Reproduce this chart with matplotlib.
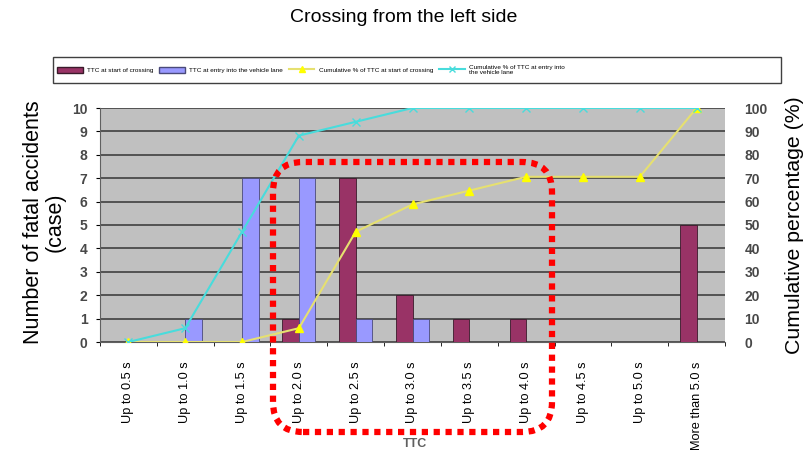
import matplotlib.pyplot as plt
from matplotlib.patches import FancyBboxPatch, Rectangle, Patch
from matplotlib.lines import Line2D
import numpy as np

plt.rcParams['font.family'] = ['Liberation Sans', 'DejaVu Sans']

categories = ['Up to 0.5 s', 'Up to 1.0 s', 'Up to 1.5 s', 'Up to 2.0 s', 'Up to 2.5 s',
              'Up to 3.0 s', 'Up to 3.5 s', 'Up to 4.0 s', 'Up to 4.5 s', 'Up to 5.0 s',
              'More than 5.0 s']
ttc_start = [0, 0, 0, 1, 7, 2, 1, 1, 0, 0, 5]
ttc_entry = [0, 1, 7, 7, 1, 1, 0, 0, 0, 0, 0]
cum_start = [0, 0, 0, 5.9, 47.1, 58.8, 64.7, 70.6, 70.6, 70.6, 100]
cum_entry = [0, 5.9, 47.1, 88.2, 94.1, 100, 100, 100, 100, 100, 100]

fig = plt.figure(figsize=(8.07, 4.55), dpi=100)
ax = fig.add_axes([100/807, 1-342/455, 625/807, 234/455])
ax.set_facecolor('#c0c0c0')

x = np.arange(len(categories))
w = 0.29
ax.bar(x - w/2, ttc_start, w, color='#993366', edgecolor='#3a1a2a', linewidth=0.6, zorder=3)
ax.bar(x + w/2, ttc_entry, w, color='#9999ff', edgecolor='#4a4a7a', linewidth=0.6, zorder=3)

ax.set_xlim(-0.5, len(categories) - 0.5)
ax.set_ylim(0, 10)
ax.set_yticks(range(0, 11))
ax.grid(axis='y', color='#404040', linewidth=1.2, zorder=1)
ax.set_axisbelow(True)
ax.set_xticks(x)
ax.set_xticklabels(categories, rotation=90, fontsize=9.2)
ax.set_xticks(np.arange(-0.5, len(categories), 1), minor=True)
ax.tick_params(axis='x', which='major', length=0, pad=14)
ax.tick_params(axis='x', which='minor', length=3)
ax.tick_params(axis='y', labelsize=10, labelcolor='#484848', length=3, pad=6)
for lab in ax.get_yticklabels():
    lab.set_fontweight('bold')
for s in ['top', 'right']:
    ax.spines[s].set_visible(False)
ax.spines['left'].set_color('#606060')
ax.spines['bottom'].set_color('#606060')

ax2 = ax.twinx()
ax2.set_ylim(0, 100)
ax2.set_yticks(range(0, 101, 10))
ax2.plot(x, cum_start, color='#e6e070', linewidth=1.5, marker='^', markersize=6,
         markerfacecolor='#ffff00', markeredgecolor='#ffff00', zorder=4)
ax2.plot(x, cum_entry, color='#48dcdc', linewidth=1.5, marker='x', markersize=6,
         markeredgecolor='#48dcdc', zorder=4)
ax2.tick_params(axis='y', labelsize=10, labelcolor='#484848', length=0, pad=14)
for lab in ax2.get_yticklabels():
    lab.set_fontweight('bold')
for s in ['top', 'right', 'left', 'bottom']:
    ax2.spines[s].set_visible(False)

fig.text(0.5, 1-18/455, 'Crossing from the left side', ha='center', va='center', fontsize=14)
fig.text(44/807, 1-222/455, 'Number of fatal accidents\n(case)', rotation=90,
         ha='center', va='center', fontsize=15.5, linespacing=1.05)
fig.text(795/807, 1-225/455, 'Cumulative percentage (%)', rotation=90,
         ha='center', va='center', fontsize=15.3)
fig.text(415/807, 1-444/455, 'TTC', ha='center', va='center', fontsize=9,
         color='#606060', fontweight='bold')

# legend
handles = [Patch(facecolor='#993366', edgecolor='#3a1a2a'),
           Patch(facecolor='#9999ff', edgecolor='#4a4a7a'),
           Line2D([], [], color='#e6e070', marker='^', markersize=5, markerfacecolor='#ffff00',
                  markeredgecolor='#ffff00'),
           Line2D([], [], color='#48dcdc', marker='x', markersize=5)]
labels = ['TTC at start of crossing', 'TTC at entry into the vehicle lane',
          'Cumulative % of TTC at start of crossing',
          'Cumulative % of TTC at entry into\nthe vehicle lane']
fig.legend(handles, labels, loc='center left', ncol=4,
           prop={'family': ['Liberation Sans'], 'size': 4.6},
           bbox_to_anchor=(54/807, 1-70/455), frameon=False, borderpad=0.2,
           handlelength=4.0, handleheight=1.0, handletextpad=0.7, columnspacing=0.9,
           borderaxespad=0.3)
fig.add_artist(Rectangle((53/807, 1-83/455), 728/807, 26/455, transform=fig.transFigure,
                         fill=False, edgecolor='#404040', linewidth=1.0))

# red dotted rounded box
box = FancyBboxPatch((2.73, 0.23), 2.79, 2.70,
                     boxstyle='round,pad=0,rounding_size=0.3',
                     transform=fig.dpi_scale_trans, fill=False, edgecolor='red',
                     linewidth=4.5, linestyle=(0, (1, 0.9)), capstyle='butt', zorder=10)
fig.add_artist(box)

fig.savefig('out.png', dpi=100)
